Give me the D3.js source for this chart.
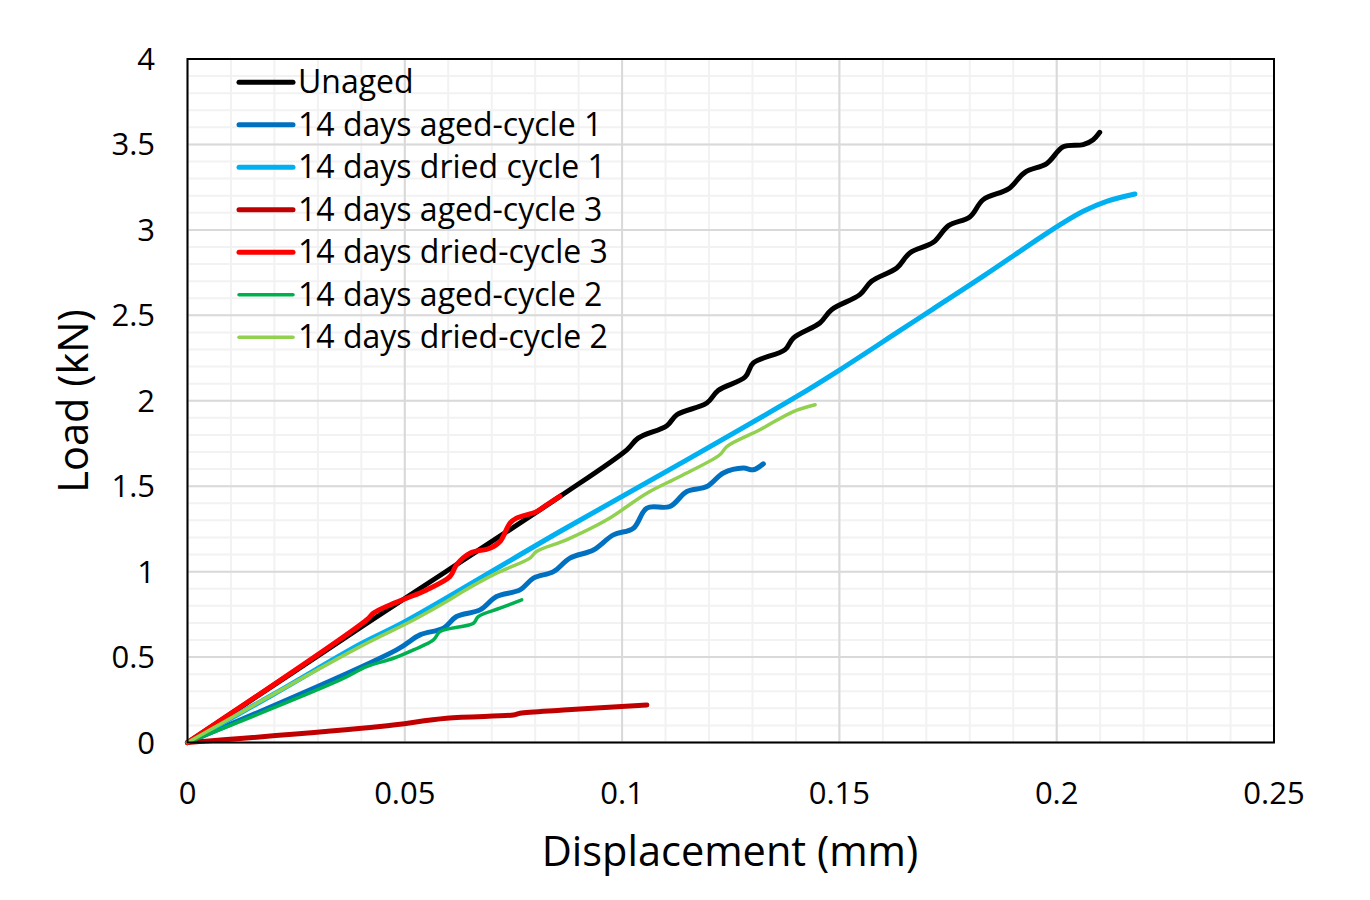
<!DOCTYPE html>
<html lang="en">
<head>
<meta charset="utf-8">
<title>Load vs Displacement</title>
<script src="https://d3js.org/d3.v7.min.js"></script>
<style type="text/css">
body { margin: 0; background: #fff; }
text { font-family: "Open Sans", "Noto Sans", sans-serif; fill: #000; }
</style>
</head>
<body>
<script type="text/javascript">

// series data, [displacement (mm), load (kN)]
var unaged = [[0,0],[0.04,0.676],[0.0857,1.44],[0.1011,1.713],[0.1037,1.781],[0.1103,1.854],[0.1126,1.918],
  [0.1195,1.987],[0.1221,2.060],[0.1283,2.139],[0.1302,2.221],[0.1375,2.299],[0.1394,2.367],[0.1455,2.455],
  [0.1482,2.533],[0.1547,2.621],[0.1574,2.699],[0.1632,2.777],[0.1662,2.865],[0.1716,2.927],[0.1751,3.025],
  [0.1800,3.076],[0.1831,3.177],[0.1889,3.240],[0.1927,3.337],[0.1977,3.388],[0.2015,3.486],[0.2061,3.499],
  [0.2084,3.528],[0.2099,3.571]];
var agedC1 = [[0,0],[0.0481,0.542],[0.0535,0.630],[0.0589,0.669],[0.0619,0.737],[0.0673,0.776],[0.0711,0.854],
  [0.0765,0.893],[0.0796,0.962],[0.0842,1.0],[0.088,1.079],[0.0934,1.127],[0.098,1.215],[0.1026,1.254],
  [0.1057,1.372],[0.111,1.381],[0.1149,1.469],[0.1195,1.498],[0.1233,1.577],[0.1279,1.606],[0.1302,1.596],
  [0.1325,1.631]];
var driedC1 = [[0,0],[0.02,0.285],[0.0397,0.575],[0.05,0.707],[0.0857,1.235],[0.1156,1.664],[0.1402,2.025],
  [0.1501,2.181],[0.1639,2.41],[0.1716,2.538],[0.1831,2.729],[0.1961,2.953],[0.2008,3.031],[0.2061,3.109],
  [0.2115,3.167],[0.2180,3.21]];
var agedC3 = [[0,0],[0.0443,0.093],[0.0596,0.142],[0.075,0.161],[0.0765,0.171],[0.0865,0.19],[0.1057,0.22]];
var driedC3 = [[0,0],[0.0412,0.717],[0.0428,0.757],[0.0466,0.805],[0.0504,0.844],[0.055,0.893],[0.0604,0.971],
  [0.0619,1.04],[0.065,1.108],[0.0696,1.137],[0.0719,1.176],[0.0742,1.284],[0.0757,1.313],[0.0804,1.352],
  [0.0827,1.391],[0.0857,1.44]];
var agedC2 = [[0,0],[0.0351,0.366],[0.0412,0.444],[0.0474,0.493],[0.052,0.542],[0.0566,0.6],[0.0581,0.649],
  [0.0658,0.698],[0.0669,0.737],[0.0719,0.786],[0.0769,0.835]];
var driedC2 = [[0,0],[0.0397,0.561],[0.052,0.717],[0.0596,0.825],[0.0627,0.874],[0.0711,0.991],[0.0788,1.079],
  [0.0803,1.118],[0.0872,1.186],[0.0965,1.303],[0.1057,1.459],[0.1133,1.557],[0.1225,1.684],[0.1241,1.732],
  [0.1317,1.830],[0.1394,1.937],[0.1444,1.977]];

var seriesNames = ["Unaged", "14 days aged-cycle 1", "14 days dried cycle 1", "14 days aged-cycle 3",
  "14 days dried-cycle 3", "14 days aged-cycle 2", "14 days dried-cycle 2"];
var seriesData = [unaged, agedC1, driedC1, agedC3, driedC3, agedC2, driedC2];
var seriesColors = ["#000000", "#0070C0", "#00B0F0", "#C00000", "#FF0000", "#00B050", "#92D050"];
var seriesWidths = [5, 5, 5, 5, 5, 3.5, 3.5];

var xTicks = [0, 0.05, 0.1, 0.15, 0.2, 0.25];
var yTicks = [0, 0.5, 1, 1.5, 2, 2.5, 3, 3.5, 4];

var W = 1370, H = 900;
var m = { left: 187.5, right: 1274, top: 59, bottom: 742.5 };

var svg = d3.select("body").append("svg")
  .attr("width", W)
  .attr("height", H);

var x = d3.scaleLinear().domain([0, 0.25]).range([m.left, m.right]);
var y = d3.scaleLinear().domain([0, 4]).range([m.bottom, m.top]);

// gridlines: minor then major
var g = svg.append("g");
g.selectAll(".vminor").data(d3.range(0, 26).map(function(i) { return i / 100; }))
  .enter().append("line")
  .attr("x1", function(d) { return x(d); }).attr("x2", function(d) { return x(d); })
  .attr("y1", m.top).attr("y2", m.bottom)
  .attr("stroke", "#f2f2f2").attr("stroke-width", 2);
g.selectAll(".hminor").data(d3.range(0, 41).map(function(i) { return i / 10; }))
  .enter().append("line")
  .attr("x1", m.left).attr("x2", m.right)
  .attr("y1", function(d) { return y(d); }).attr("y2", function(d) { return y(d); })
  .attr("stroke", "#f2f2f2").attr("stroke-width", 2);
g.selectAll(".vmajor").data(xTicks)
  .enter().append("line")
  .attr("x1", function(d) { return x(d); }).attr("x2", function(d) { return x(d); })
  .attr("y1", m.top).attr("y2", m.bottom)
  .attr("stroke", "#d9d9d9").attr("stroke-width", 2);
g.selectAll(".hmajor").data(yTicks)
  .enter().append("line")
  .attr("x1", m.left).attr("x2", m.right)
  .attr("y1", function(d) { return y(d); }).attr("y2", function(d) { return y(d); })
  .attr("stroke", "#d9d9d9").attr("stroke-width", 2);

// tick labels
svg.selectAll(".xlab").data(xTicks)
  .enter().append("text")
  .attr("x", function(d) { return x(d); })
  .attr("y", 804)
  .attr("text-anchor", "middle")
  .attr("font-size", 31)
  .text(function(d) { return d; });
svg.selectAll(".ylab").data(yTicks)
  .enter().append("text")
  .attr("x", 155)
  .attr("y", function(d) { return y(d) + 11; })
  .attr("text-anchor", "end")
  .attr("font-size", 31)
  .text(function(d) { return d; });

// axis titles
svg.append("text")
  .attr("x", 730).attr("y", 866)
  .attr("text-anchor", "middle")
  .attr("font-size", 41.5)
  .text("Displacement (mm)");
svg.append("text")
  .attr("transform", "translate(88,401) rotate(-90)")
  .attr("text-anchor", "middle")
  .attr("font-size", 41.5)
  .text("Load (kN)");

// lines
var line = d3.line()
  .x(function(d) { return x(d[0]); })
  .y(function(d) { return y(d[1]); })
  .curve(d3.curveCatmullRom.alpha(0.5));

svg.selectAll(".series").data(seriesData)
  .enter().append("path")
  .attr("d", line)
  .attr("fill", "none")
  .attr("stroke", function(d, i) { return seriesColors[i]; })
  .attr("stroke-width", function(d, i) { return seriesWidths[i]; })
  .attr("stroke-linejoin", "round")
  .attr("stroke-linecap", "round");

// plot border
svg.append("rect")
  .attr("x", m.left).attr("y", m.top)
  .attr("width", m.right - m.left).attr("height", m.bottom - m.top)
  .attr("fill", "none").attr("stroke", "#000").attr("stroke-width", 2);

// legend
var leg = svg.selectAll(".leg").data(seriesNames)
  .enter().append("g")
  .attr("transform", function(d, i) { return "translate(239," + (82.3 + i * 42.5) + ")"; });
leg.append("line")
  .attr("x1", 0).attr("x2", 54)
  .attr("stroke", function(d, i) { return seriesColors[i]; })
  .attr("stroke-width", function(d, i) { return seriesWidths[i]; })
  .attr("stroke-linecap", "round");
leg.append("text")
  .attr("x", 59).attr("y", 11)
  .attr("font-size", 32)
  .text(function(d) { return d; });

</script>
</body>
</html>
